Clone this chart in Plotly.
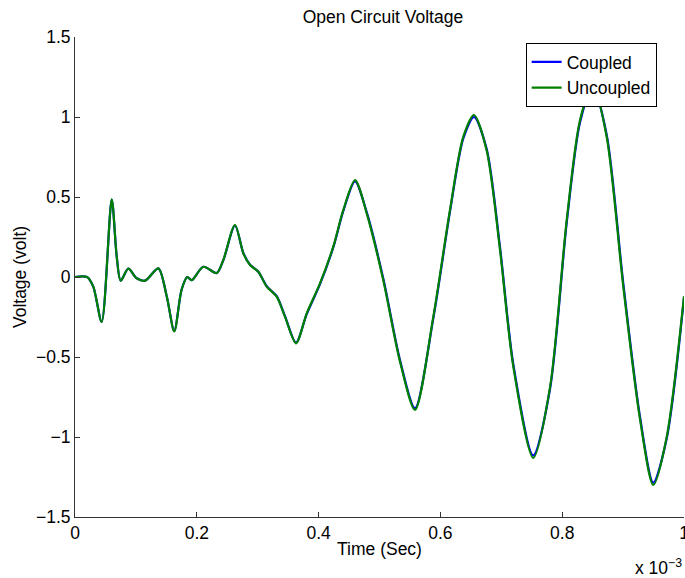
import plotly.graph_objects as go

# time in units of 1e-3 s
time_ms = [0.0, 0.0197, 0.030, 0.0438, 0.0603, 0.0685, 0.0750, 0.0875, 0.1013, 0.115,
           0.1368, 0.1506, 0.163, 0.175, 0.1844, 0.1916, 0.2107, 0.2327, 0.2435, 0.2627,
           0.2764, 0.2874, 0.301, 0.3148, 0.3312, 0.3448, 0.3629, 0.3805, 0.4023, 0.4241,
           0.4406, 0.4598, 0.479, 0.5062, 0.5337, 0.5583, 0.5883, 0.6158, 0.6376, 0.6552,
           0.676, 0.6979, 0.7197, 0.7525, 0.78, 0.8074, 0.8292, 0.85, 0.873, 0.9003,
           0.9278, 0.9496, 0.9716, 1.0]

uncoupled = [0.0, 0.0, -0.06, -0.28, 0.486, 0.127, -0.023, 0.052, -0.008, -0.023,
             0.054, -0.12, -0.34, -0.08, 0.0, -0.02, 0.064, 0.025, 0.106, 0.325,
             0.148, 0.075, 0.033, -0.06, -0.123, -0.248, -0.415, -0.227, -0.04, 0.19,
             0.419, 0.606, 0.398, -0.02, -0.53, -0.83, -0.25, 0.42, 0.877, 1.0125,
             0.79, 0.169, -0.56, -1.13, -0.69, 0.356, 0.98, 1.2, 0.877, -0.06,
             -0.89, -1.30, -1.0, -0.12]

coupled = [0.0, 0.0, -0.06, -0.28, 0.483, 0.127, -0.023, 0.052, -0.008, -0.023,
           0.054, -0.12, -0.337, -0.08, 0.0, -0.02, 0.064, 0.025, 0.104, 0.322,
           0.15, 0.077, 0.033, -0.058, -0.12, -0.245, -0.41, -0.232, -0.045, 0.185,
           0.413, 0.598, 0.405, -0.01, -0.52, -0.82, -0.26, 0.41, 0.867, 1.0,
           0.80, 0.185, -0.545, -1.115, -0.70, 0.34, 0.965, 1.19, 0.89, -0.04,
           -0.875, -1.285, -1.01, -0.13]

x_ticks = [0, 0.2, 0.4, 0.6, 0.8, 1.0]
x_tick_labels = ["0", "0.2", "0.4", "0.6", "0.8", "1"]
y_ticks = [-1.5, -1, -0.5, 0, 0.5, 1, 1.5]
y_tick_labels = ["\u22121.5", "\u22121", "\u22120.5", "0", "0.5", "1", "1.5"]

font_family = "Liberation Sans, Arial, Helvetica, sans-serif"
FS = 17.5

fig = go.Figure()
fig.add_trace(go.Scatter(x=time_ms, y=coupled, mode="lines", name="Coupled",
                         line=dict(color="#0000ff", width=2.2, shape="spline", smoothing=0.8)))
fig.add_trace(go.Scatter(x=time_ms, y=uncoupled, mode="lines", name="Uncoupled",
                         line=dict(color="#008000", width=2.2, shape="spline", smoothing=0.8)))

fig.update_layout(
    width=685, height=578,
    margin=dict(l=75, r=1, t=37, b=61, autoexpand=False),
    paper_bgcolor="white", plot_bgcolor="white",
    font=dict(family=font_family, size=FS, color="black"),
    title=dict(text="Open Circuit Voltage", x=0.559, xanchor="center", y=0.97, yanchor="middle",
               font=dict(size=FS)),
    showlegend=True,
    legend=dict(x=0.74, y=0.9875, xanchor="left", yanchor="top",
                bgcolor="white", bordercolor="black", borderwidth=1,
                font=dict(size=FS), tracegroupgap=0, itemwidth=30),
)
fig.update_xaxes(range=[0, 1], tickvals=x_ticks, ticktext=x_tick_labels,
                 showline=True, linecolor="#333", linewidth=1, ticks="inside", ticklen=5,
                 tickcolor="#333", showgrid=False, zeroline=False, ticklabeloverflow="allow",
                 title=dict(text="Time (Sec)", standoff=0, font=dict(size=FS)),
                 tickfont=dict(size=FS))
fig.update_yaxes(range=[-1.5, 1.5], tickvals=y_ticks, ticktext=y_tick_labels,
                 showline=True, linecolor="#333", linewidth=1, ticks="inside", ticklen=5,
                 tickcolor="#333", showgrid=False, zeroline=False, ticklabeloverflow="allow",
                 title=dict(text="Voltage (volt)", standoff=4, font=dict(size=FS)),
                 tickfont=dict(size=FS))
fig.add_annotation(text="x 10<sup>\u22123</sup>", xref="paper", yref="paper",
                   x=1.0, y=-0.078, xanchor="right", yanchor="top", showarrow=False,
                   font=dict(size=FS))

fig.write_html("out.html", config={"displayModeBar": False},
               post_script="document.body.style.margin='0';document.body.style.overflow='hidden';")
